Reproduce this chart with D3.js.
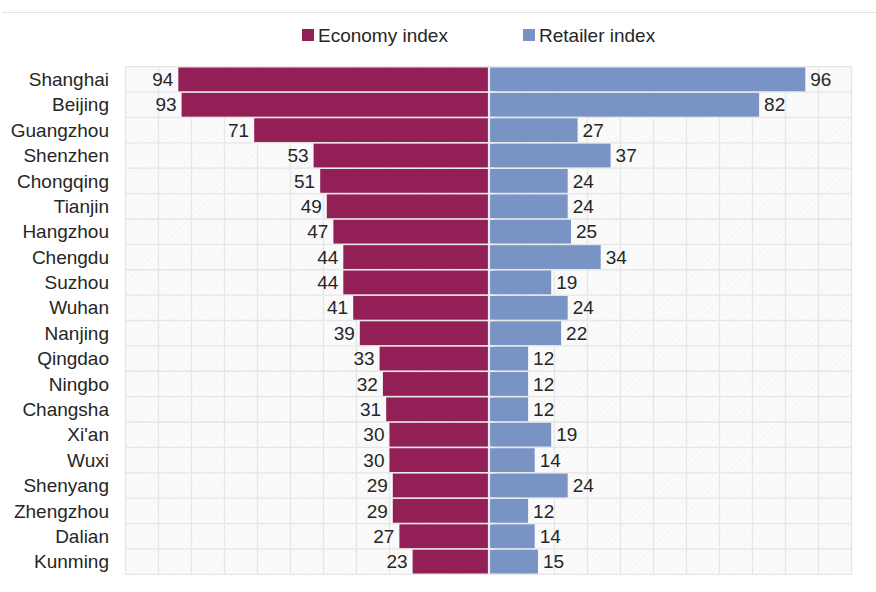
<!DOCTYPE html>
<html>
<head>
<meta charset="utf-8">
<script src="https://cdn.jsdelivr.net/npm/d3@7"></script>
<style>
  html, body { margin: 0; padding: 0; background: #ffffff; }
  svg { display: block; }
  text { font-family: "Liberation Sans", Arial, sans-serif; fill: #262626; }
</style>
</head>
<body>
<svg id="chart" width="876" height="592"></svg>
<script>
// City rankings: economy index (left) vs retailer index (right)
const cities = ["Shanghai", "Beijing", "Guangzhou", "Shenzhen", "Chongqing", "Tianjin",
  "Hangzhou", "Chengdu", "Suzhou", "Wuhan", "Nanjing", "Qingdao", "Ningbo", "Changsha",
  "Xi'an", "Wuxi", "Shenyang", "Zhengzhou", "Dalian", "Kunming"];
const economyIndex = [94, 93, 71, 53, 51, 49, 47, 44, 44, 41, 39, 33, 32, 31, 30, 30, 29, 29, 27, 23];
const retailerIndex = [96, 82, 27, 37, 24, 24, 25, 34, 19, 24, 22, 12, 12, 12, 19, 14, 24, 12, 14, 15];
const seriesNames = ["Economy index", "Retailer index"];
const gridTicks = [0, 10, 20, 30, 40, 50, 60, 70, 80, 90, 100, 110];

const colors = { economy: "#921f56", retailer: "#7a93c5" };

const svg = d3.select("#chart");
const W = 876;
const center = 488.5, halfW = 363;
const plotTop = 66.7, plotBottom = 574.3;

const xLeft = d3.scaleLinear().domain([0, 110]).range([center, center - halfW]);
const xRight = d3.scaleLinear().domain([0, 110]).range([center, center + halfW]);
const y = d3.scaleBand().domain(cities).range([plotTop, plotBottom]).padding(0);

// thin rule across the top
svg.append("line").attr("x1", 2).attr("x2", W).attr("y1", 12.5).attr("y2", 12.5)
  .attr("stroke", "#e3e3e3").attr("stroke-width", 1.2);

// hatched plot background
const defs = svg.append("defs");
const pat = defs.append("pattern").attr("id", "hatch").attr("patternUnits", "userSpaceOnUse")
  .attr("width", 4).attr("height", 4).attr("patternTransform", "rotate(45)");
pat.append("rect").attr("width", 4).attr("height", 4).attr("fill", "#fbfbfb");
pat.append("line").attr("x1", 0).attr("y1", 0).attr("x2", 0).attr("y2", 4)
  .attr("stroke", "#efefef").attr("stroke-width", 1);

svg.append("rect").attr("x", xLeft(110)).attr("y", plotTop)
  .attr("width", xRight(110) - xLeft(110)).attr("height", plotBottom - plotTop)
  .attr("fill", "url(#hatch)");

// grid
const grid = svg.append("g").attr("stroke", "#e6e6e6").attr("stroke-width", 1.3);
gridTicks.forEach(t => {
  [xLeft(t), xRight(t)].forEach(x => {
    grid.append("line").attr("x1", x).attr("x2", x).attr("y1", plotTop).attr("y2", plotBottom);
  });
});
d3.range(cities.length + 1).forEach(i => {
  const yy = plotTop + i * y.bandwidth();
  grid.append("line").attr("x1", xLeft(110)).attr("x2", xRight(110)).attr("y1", yy).attr("y2", yy);
});

// bars
const barH = y.bandwidth() - 1.6;
svg.append("g").selectAll("rect").data(cities).join("rect")
  .attr("x", (d, i) => xLeft(economyIndex[i]))
  .attr("y", d => y(d) + 0.8)
  .attr("width", (d, i) => xLeft(0) - xLeft(economyIndex[i]))
  .attr("height", barH)
  .attr("fill", colors.economy);

svg.append("g").selectAll("rect").data(cities).join("rect")
  .attr("x", xRight(0))
  .attr("y", d => y(d) + 0.8)
  .attr("width", (d, i) => xRight(retailerIndex[i]) - xRight(0))
  .attr("height", barH)
  .attr("fill", colors.retailer);

// central axis with small ticks
svg.append("line").attr("x1", center + 0.5).attr("x2", center + 0.5).attr("y1", plotTop).attr("y2", plotBottom)
  .attr("stroke", "#e8ecf5").attr("stroke-width", 2.2);
cities.slice(1).forEach(c => {
  svg.append("line").attr("x1", center + 1.5).attr("x2", center + 6)
    .attr("y1", y(c)).attr("y2", y(c)).attr("stroke", "#f2f2f2").attr("stroke-width", 1.3);
});

// category labels
const fs = 19;
svg.append("g").selectAll("text").data(cities).join("text")
  .attr("x", 109).attr("y", d => y(d) + y.bandwidth() / 2)
  .attr("dy", "0.35em").attr("text-anchor", "end")
  .style("font-size", fs + "px")
  .text(d => d);

// value labels
svg.append("g").selectAll("text").data(cities).join("text")
  .attr("x", (d, i) => xLeft(economyIndex[i]) - 5)
  .attr("y", d => y(d) + y.bandwidth() / 2)
  .attr("dy", "0.35em").attr("text-anchor", "end")
  .style("font-size", fs + "px")
  .text((d, i) => economyIndex[i]);

svg.append("g").selectAll("text").data(cities).join("text")
  .attr("x", (d, i) => xRight(retailerIndex[i]) + 5)
  .attr("y", d => y(d) + y.bandwidth() / 2)
  .attr("dy", "0.35em").attr("text-anchor", "start")
  .style("font-size", fs + "px")
  .text((d, i) => retailerIndex[i]);

// legend
const legend = [
  { name: seriesNames[0], color: colors.economy, x: 302 },
  { name: seriesNames[1], color: colors.retailer, x: 523 }
];
const lg = svg.append("g");
legend.forEach(l => {
  lg.append("rect").attr("x", l.x).attr("y", 29).attr("width", 12).attr("height", 12).attr("fill", l.color);
  lg.append("text").attr("x", l.x + 16).attr("y", 35).attr("dy", "0.35em")
    .style("font-size", fs + "px").text(l.name);
});
</script>
</body>
</html>
